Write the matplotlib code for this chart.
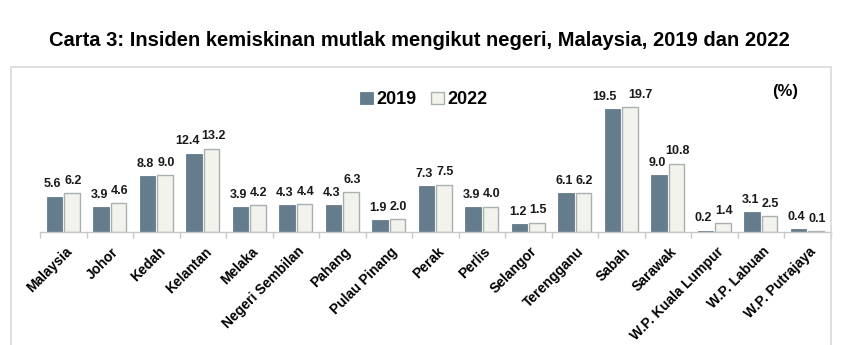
import matplotlib
matplotlib.use("Agg")
import matplotlib.pyplot as plt
import numpy as np
from matplotlib.patches import Rectangle

plt.rcParams["font.family"] = ["Liberation Sans", "DejaVu Sans"]
plt.rcParams["font.weight"] = "bold"

states = [
    "Malaysia", "Johor", "Kedah", "Kelantan", "Melaka", "Negeri Sembilan",
    "Pahang", "Pulau Pinang", "Perak", "Perlis", "Selangor", "Terengganu",
    "Sabah", "Sarawak", "W.P. Kuala Lumpur", "W.P. Labuan", "W.P. Putrajaya",
]
values_2019 = [5.6, 3.9, 8.8, 12.4, 3.9, 4.3, 4.3, 1.9, 7.3, 3.9, 1.2, 6.1,
               19.5, 9.0, 0.2, 3.1, 0.4]
values_2022 = [6.2, 4.6, 9.0, 13.2, 4.2, 4.4, 6.3, 2.0, 7.5, 4.0, 1.5, 6.2,
               19.7, 10.8, 1.4, 2.5, 0.1]

title = "Carta 3: Insiden kemiskinan mutlak mengikut negeri, Malaysia, 2019 dan 2022"

c2019 = "#657C8C"
c2022 = "#F2F3EC"
edge2022 = "#A9B0B0"

W, H = 842, 345
fig = plt.figure(figsize=(W / 100, H / 100), dpi=100)

# chart-area border (bottom runs off the image)
fig.patches.append(Rectangle((11 / W, -0.05), (831 - 11) / W, (H - 67) / H + 0.05,
                             transform=fig.transFigure, fill=False,
                             edgecolor="#D9D9D9", linewidth=1.2))

fig.text(419 / W, 1 - 40 / H, title, ha="center", va="center",
         fontsize=14.5, fontweight="bold")

ymax = 22.0
px_per_unit = 6.32
ax = fig.add_axes([40 / W, (H - 232) / H, (830.5 - 40) / W, ymax * px_per_unit / H])

x = np.arange(len(states))
bw = 0.335
gap = 0.02
b1 = ax.bar(x - bw / 2 - gap, values_2019, bw, color=c2019, edgecolor=c2019,
            linewidth=0.6, label="2019")
b2 = ax.bar(x + bw / 2 + gap, values_2022, bw, color=c2022, edgecolor=edge2022,
            linewidth=1.0, label="2022")

# label nudges (pixels) where two wide labels would collide
nudge19 = {3: -7, 12: -8}
nudge22 = {3: 2, 12: 10}
for i, (r1, r2) in enumerate(zip(b1, b2)):
    ax.annotate(f"{values_2019[i]:.1f}",
                (r1.get_x() + r1.get_width() / 2, r1.get_height()),
                xytext=(nudge19.get(i, -2) * 0.72, 4.5), textcoords="offset points",
                ha="center", va="bottom", fontsize=9, fontweight="bold",
                color="#1A1A1A")
    ax.annotate(f"{values_2022[i]:.1f}",
                (r2.get_x() + r2.get_width() / 2, r2.get_height()),
                xytext=(nudge22.get(i, 1) * 0.72, 4.5), textcoords="offset points",
                ha="center", va="bottom", fontsize=9, fontweight="bold",
                color="#1A1A1A")

ax.set_xlim(-0.5, len(states) - 0.5)
ax.set_ylim(0, ymax)
ax.set_yticks([])
for s in ["top", "right", "left"]:
    ax.spines[s].set_visible(False)
ax.spines["bottom"].set_color("#C8C8C8")
ax.spines["bottom"].set_linewidth(1.0)

ax.set_xticks(x + 0.04)
ax.set_xticklabels(states, rotation=45, ha="right", rotation_mode="anchor",
                   fontsize=10, fontweight="bold")
ax.tick_params(axis="x", which="major", length=0, pad=9)
ax.set_xticks(np.arange(len(states) + 1) - 0.5, minor=True)
ax.tick_params(axis="x", which="minor", length=4, color="#C8C8C8", width=1.0)

leg = ax.legend(loc="center", bbox_to_anchor=(424 / W, 1 - 100 / H),
                bbox_transform=fig.transFigure, ncol=2, frameon=False,
                prop={"size": 13, "weight": "bold"}, handlelength=0.7,
                handleheight=0.7, handletextpad=0.2, columnspacing=0.8)

fig.text(785 / W, 1 - 92 / H, "(%)", ha="center", va="center",
         fontsize=12, fontweight="bold")

fig.savefig("out.png", dpi=100)
